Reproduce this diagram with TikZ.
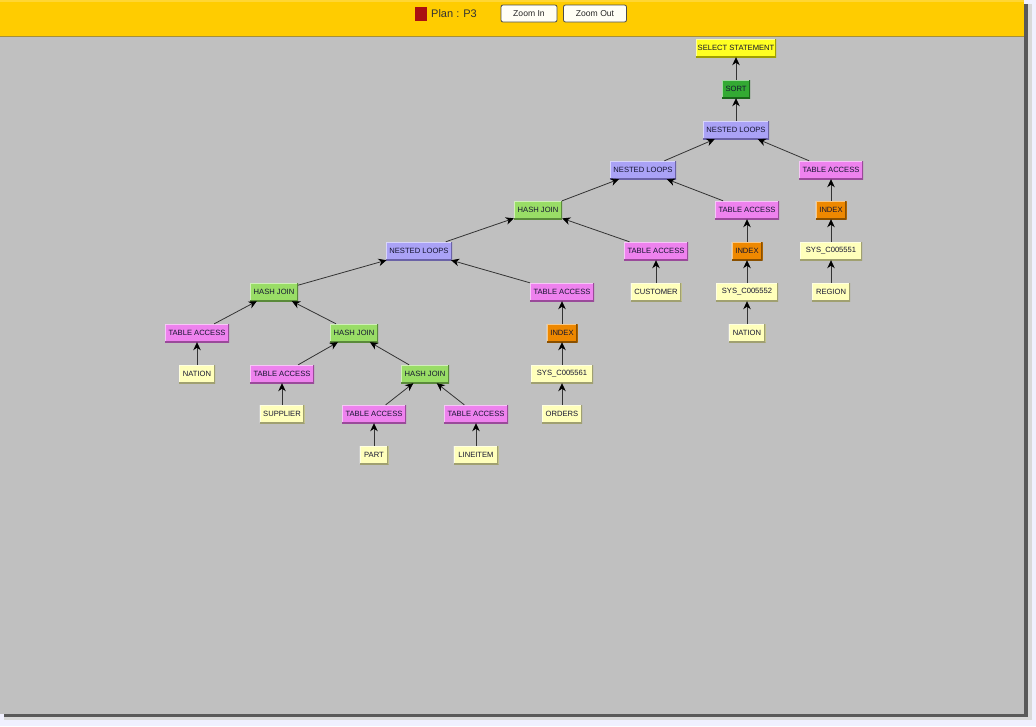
\documentclass[tikz,border=0pt]{standalone}
\usepackage{fontspec}
\newfontfamily\nodefont{Liberation Sans}
\usetikzlibrary{arrows.meta}
\definecolor{bggrey}{HTML}{C0C0C0}
\definecolor{header}{HTML}{FFCC00}
\definecolor{selc}{HTML}{FFFF22}
\definecolor{selcd}{HTML}{A0A000}
\definecolor{sortc}{HTML}{33AA33}
\definecolor{sortcd}{HTML}{1A661A}
\definecolor{nlc}{HTML}{AAA2F6}
\definecolor{nlcd}{HTML}{6A62A6}
\definecolor{hjc}{HTML}{99DD66}
\definecolor{hjcd}{HTML}{5A8A3A}
\definecolor{tac}{HTML}{EE82EE}
\definecolor{tacd}{HTML}{9A4A9A}
\definecolor{idxc}{HTML}{EE8800}
\definecolor{idxcd}{HTML}{8A5000}
\definecolor{leafc}{HTML}{FFFFBB}
\definecolor{leafcd}{HTML}{A0A070}
\definecolor{txtc}{HTML}{141430}
\definecolor{planred}{HTML}{AA1111}
\tikzset{
  bevel/.style={path picture={
    \draw[line width=2.4pt,white,opacity=0.55] (path picture bounding box.south west) -- (path picture bounding box.north west) -- (path picture bounding box.north east);
    \draw[line width=2.8pt,#1] (path picture bounding box.south west) -- (path picture bounding box.south east) -- (path picture bounding box.north east);
  }},
  opnode/.style={inner sep=0pt, minimum height=18pt, text=txtc, font=\nodefont\fontsize{7.6}{8}\selectfont},
  selbox/.style={opnode, fill=selc, bevel=selcd, minimum width=80pt},
  sortbox/.style={opnode, fill=sortc, bevel=sortcd, minimum width=28pt},
  nlbox/.style={opnode, fill=nlc, bevel=nlcd, minimum width=66pt},
  hjbox/.style={opnode, fill=hjc, bevel=hjcd, minimum width=48pt},
  tabox/.style={opnode, fill=tac, bevel=tacd, minimum width=64pt},
  idxbox/.style={opnode, fill=idxc, bevel=idxcd, minimum width=31pt},
  leafbox/.style={opnode, fill=leafc, bevel=leafcd},
  arr/.style={draw=black!80, line width=0.8pt, -{Stealth[length=8pt,width=7.5pt,inset=2.5pt,black]}},
  btn/.style={draw=black!70, line width=0.8pt, fill=white!96!yellow, rounded corners=2pt, inner sep=0pt, minimum height=17pt, font=\nodefont\fontsize{8.6}{9}\selectfont, text=black!85}
}
\begin{document}
\begin{tikzpicture}[x=1pt,y=-1pt]
\useasboundingbox (0,0) rectangle (1036,726);
% outer background and window shadow
\fill[white!94!blue] (0,0) rectangle (1036,726);
\fill[black!15] (4,4) rectangle (1032,720);
\fill[black!65] (4,4) rectangle (1028,717);
\fill[bggrey] (0,0) rectangle (1024,714);
% header
\fill[header] (0,0) rectangle (1024,36);
\fill[header!80!white] (0,0) rectangle (1024,1.5);
\draw[line width=1.2pt, color=header!60!black!70!bggrey] (0,36.5) -- (1024,36.5);
\node[fill=planred, minimum width=12pt, minimum height=14pt, inner sep=0pt] (redsq) at (421,13.5) {};
\node[anchor=west, inner sep=0pt, font=\nodefont\fontsize{11}{12}\selectfont, text=black!80] (plan) at (431,13.5) {Plan : P3};
\node[btn, minimum width=56pt] (zin) at (529,13.5) {Zoom In};
\node[btn, minimum width=63pt] (zout) at (595,13.5) {Zoom Out};
% plan nodes
\node[selbox] (sel) at (736,48) {SELECT STATEMENT};
\node[sortbox] (sort) at (736,89) {SORT};
\node[nlbox] (nl1) at (736,130) {NESTED LOOPS};
\node[nlbox] (nl2) at (643,170) {NESTED LOOPS};
\node[tabox] (ta1) at (831,170) {TABLE ACCESS};
\node[hjbox] (hj1) at (538,210) {HASH JOIN};
\node[tabox] (ta2) at (747,210) {TABLE ACCESS};
\node[idxbox] (idx1) at (831,210) {INDEX};
\node[nlbox] (nl3) at (419,251) {NESTED LOOPS};
\node[tabox] (ta3) at (656,251) {TABLE ACCESS};
\node[idxbox] (idx2) at (747,251) {INDEX};
\node[leafbox, minimum width=62pt] (sys51) at (831,251) {SYS\_C005551};
\node[hjbox] (hj2) at (274,292) {HASH JOIN};
\node[tabox] (ta4) at (562,292) {TABLE ACCESS};
\node[leafbox, minimum width=51pt] (cust) at (656,292) {CUSTOMER};
\node[leafbox, minimum width=62pt] (sys52) at (747,292) {SYS\_C005552};
\node[leafbox, minimum width=38pt] (region) at (831,292) {REGION};
\node[tabox] (ta5) at (197,333) {TABLE ACCESS};
\node[hjbox] (hj3) at (354,333) {HASH JOIN};
\node[idxbox] (idx3) at (562,333) {INDEX};
\node[leafbox, minimum width=37pt] (nation2) at (747,333) {NATION};
\node[leafbox, minimum width=36pt] (nation1) at (197,374) {NATION};
\node[tabox] (ta6) at (282,374) {TABLE ACCESS};
\node[hjbox] (hj4) at (425,374) {HASH JOIN};
\node[leafbox, minimum width=62pt] (sys61) at (562,374) {SYS\_C005561};
\node[leafbox, minimum width=45pt] (supp) at (282,414) {SUPPLIER};
\node[tabox] (ta7) at (374,414) {TABLE ACCESS};
\node[tabox] (ta8) at (476,414) {TABLE ACCESS};
\node[leafbox, minimum width=40pt] (orders) at (562,414) {ORDERS};
\node[leafbox, minimum width=29pt] (part) at (374,455) {PART};
\node[leafbox, minimum width=45pt] (lineitem) at (476,455) {LINEITEM};
% connectors (child -> parent)
\draw[arr] (sort) -- (sel);
\draw[arr] (nl1) -- (sort);
\draw[arr] (nl2) -- (nl1);
\draw[arr] (ta1) -- (nl1);
\draw[arr] (hj1) -- (nl2);
\draw[arr] (ta2) -- (nl2);
\draw[arr] (idx1) -- (ta1);
\draw[arr] (sys51) -- (idx1);
\draw[arr] (region) -- (sys51);
\draw[arr] (idx2) -- (ta2);
\draw[arr] (sys52) -- (idx2);
\draw[arr] (nation2) -- (sys52);
\draw[arr] (nl3) -- (hj1);
\draw[arr] (ta3) -- (hj1);
\draw[arr] (cust) -- (ta3);
\draw[arr] (hj2) -- (nl3);
\draw[arr] (ta4) -- (nl3);
\draw[arr] (idx3) -- (ta4);
\draw[arr] (sys61) -- (idx3);
\draw[arr] (orders) -- (sys61);
\draw[arr] (ta5) -- (hj2);
\draw[arr] (hj3) -- (hj2);
\draw[arr] (nation1) -- (ta5);
\draw[arr] (ta6) -- (hj3);
\draw[arr] (hj4) -- (hj3);
\draw[arr] (supp) -- (ta6);
\draw[arr] (ta7) -- (hj4);
\draw[arr] (ta8) -- (hj4);
\draw[arr] (part) -- (ta7);
\draw[arr] (lineitem) -- (ta8);
\end{tikzpicture}
\end{document}
